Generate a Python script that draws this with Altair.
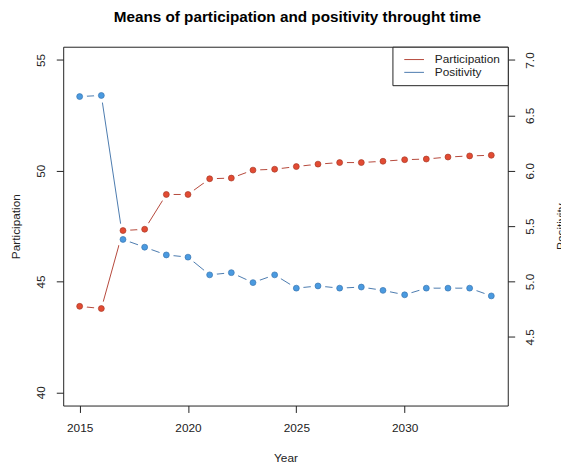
import altair as alt
import pandas as pd

years = list(range(2015, 2035))
participation = [43.88, 43.78, 47.30, 47.36, 48.93, 48.93, 49.64, 49.67, 50.03, 50.07,
                 50.19, 50.30, 50.37, 50.37, 50.43, 50.50, 50.53, 50.62, 50.67, 50.70]
positivity = [6.67, 6.68, 5.38, 5.31, 5.24, 5.22, 5.06, 5.08, 4.99, 5.06,
              4.94, 4.96, 4.94, 4.95, 4.92, 4.88, 4.94, 4.94, 4.94, 4.87]
series_names = ["Participation", "Positivity"]
x_ticks = [2015, 2020, 2025, 2030]
left_ticks = [40, 45, 50, 55]
right_ticks = [4.5, 5.0, 5.5, 6.0, 6.5, 7.0]

FONT = "Arial"
LINE_RED = "#b5473a"
LINE_BLUE = "#4a7aae"
PT_RED = "#e24b33"
PT_BLUE = "#4a9ae0"
INK = "#222222"

df_part = pd.DataFrame({"Year": years, "value": participation, "series": "Participation"})
df_pos = pd.DataFrame({"Year": years, "value": positivity, "series": "Positivity"})

x_enc = alt.X("Year:Q",
              scale=alt.Scale(domain=[2014.24, 2034.76], nice=False, zero=False),
              axis=alt.Axis(values=x_ticks, format="d", title="Year",
                            labelPadding=10, titleY=53, titleBaseline="middle"))
x_plain = alt.X("Year:Q",
                scale=alt.Scale(domain=[2014.24, 2034.76], nice=False, zero=False))

left_scale = alt.Scale(domain=[39.4, 55.6], nice=False, zero=False)
right_scale = alt.Scale(domain=[3.88, 7.12], nice=False, zero=False)

color = alt.Color("series:N",
                  scale=alt.Scale(domain=series_names, range=[LINE_RED, LINE_BLUE]),
                  legend=alt.Legend(title=None))

part_line = alt.Chart(df_part).mark_line(strokeWidth=1).encode(
    x=x_enc,
    y=alt.Y("value:Q", scale=left_scale,
            axis=alt.Axis(orient="left", values=left_ticks, title="Participation",
                          labelAngle=270, labelAlign="center", labelBaseline="bottom",
                          labelPadding=9, titleAngle=270, titleX=-48, titleY=182,
                          titleBaseline="middle", titleAlign="center")),
    color=color,
)
pos_line = alt.Chart(df_pos).mark_line(strokeWidth=1).encode(
    x=x_plain,
    y=alt.Y("value:Q", scale=right_scale,
            axis=alt.Axis(orient="right", values=right_ticks, format=".1f", title="Positivity",
                          labelAngle=270, labelAlign="center", labelBaseline="top",
                          labelPadding=10, titleAngle=270, titleX=54, titleY=182,
                          titleBaseline="middle", titleAlign="center")),
    color=color,
)

def halo(df, scale):
    return alt.Chart(df).mark_point(filled=True, shape="circle", size=220,
                                    fill="white", stroke="white", strokeWidth=0,
                                    opacity=1, fillOpacity=1).encode(
        x=x_plain, y=alt.Y("value:Q", scale=scale, axis=None))

def pts(df, scale, fill, stroke):
    return alt.Chart(df).mark_point(filled=True, shape="circle", size=36, fill=fill,
                                    stroke=stroke, strokeWidth=0.7, opacity=1).encode(
        x=x_plain, y=alt.Y("value:Q", scale=scale, axis=None))

chart = alt.layer(
    part_line, pos_line,
    halo(df_part, left_scale), halo(df_pos, right_scale),
    pts(df_part, left_scale, PT_RED, "#a83a28"),
    pts(df_pos, right_scale, PT_BLUE, "#3a76b0"),
).resolve_scale(y="independent").properties(
    width=451, height=364,
    autosize=alt.AutoSizeParams(type="none"),
    padding={"left": 56, "top": 36, "right": 54, "bottom": 56},
    title=alt.TitleParams("Means of participation and positivity throught time",
                          font=FONT, fontSize=15.5, fontWeight="bold", color="black",
                          anchor="middle", offset=9, baseline="alphabetic", dx=12),
).configure_view(
    stroke=INK, strokeWidth=1
).configure_axis(
    domain=False, grid=False, tickColor=INK, tickSize=7, tickWidth=1,
    labelColor=INK, labelFont=FONT, labelFontSize=12,
    titleColor=INK, titleFont=FONT, titleFontSize=12, titleFontWeight="normal",
).configure_legend(
    orient="top-right", offset=0, padding=7, strokeColor=INK, fillColor="white",
    cornerRadius=0, symbolType="M-2,0H2", symbolSize=100, symbolStrokeWidth=1,
    symbolOffset=9, labelOffset=15, rowPadding=1, columnPadding=0,
    labelLimit=70, labelFont=FONT, labelFontSize=12, labelColor=INK,
)

chart.save("out.html", embed_options={"renderer": "svg", "actions": False})
